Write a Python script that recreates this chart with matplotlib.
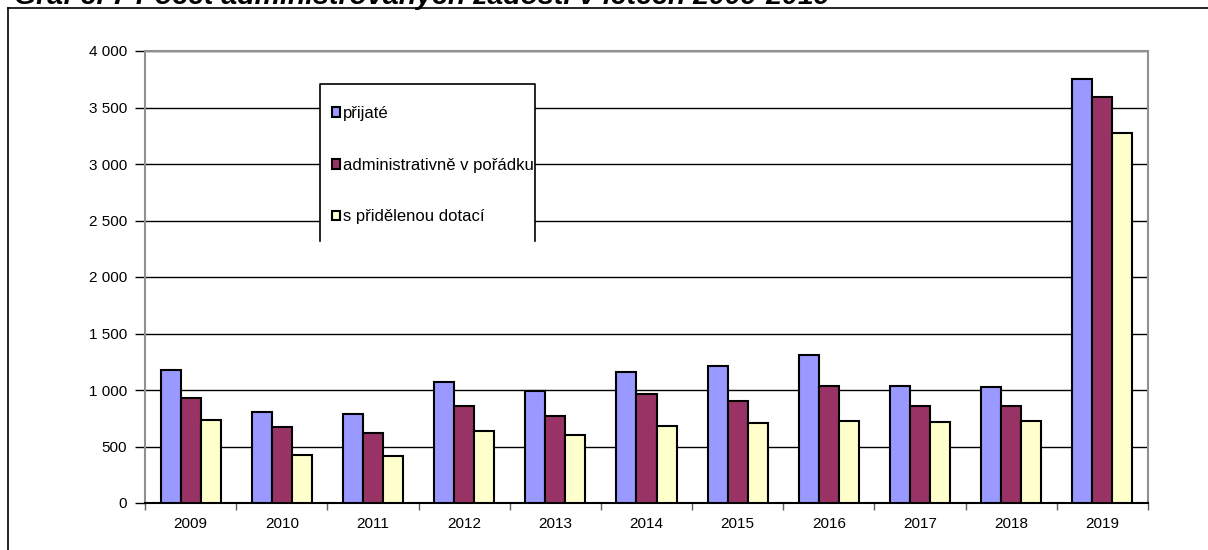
import matplotlib
matplotlib.use("Agg")
import matplotlib.pyplot as plt
import numpy as np
from matplotlib.patches import Rectangle
from matplotlib.lines import Line2D

years = ["2009", "2010", "2011", "2012", "2013", "2014", "2015", "2016", "2017", "2018", "2019"]
prijate = [1180, 808, 785, 1071, 988, 1159, 1215, 1310, 1038, 1029, 3752]
admin_v_poradku = [932, 675, 622, 861, 770, 967, 905, 1038, 861, 861, 3596]
s_dotaci = [735, 425, 416, 640, 602, 681, 711, 726, 720, 726, 3277]
series_labels = ["přijaté", "administrativně v pořádku", "s přidělenou dotací"]
yticks = [0, 500, 1000, 1500, 2000, 2500, 3000, 3500, 4000]
ytick_labels = ["0", "500", "1 000", "1 500", "2 000", "2 500", "3 000", "3 500", "4 000"]
title = "Graf č. 7 Počet administrovaných žádostí v letech 2009-2019"

colors = ["#9999FF", "#993366", "#FFFFCC"]

W, H = 1208, 550
fig = plt.figure(figsize=(W / 100, H / 100), dpi=100)
plt.rcParams['font.family'] = ['Liberation Sans', 'DejaVu Sans']

def fx(px):
    return px / W

def fy(py):
    return 1 - py / H

# outer chart frame (partly cut)
fig.add_artist(Line2D([fx(8), 1.0], [fy(7.5), fy(7.5)], color="black", lw=1.2))
fig.add_artist(Line2D([fx(8), fx(8)], [fy(7.5), 0.0], color="black", lw=1.2))

# title, cut off at the top as in the reference
fig.text(fx(14), fy(3.5), title, fontsize=20.5, fontweight="bold", fontstyle="italic",
         va="baseline", ha="left", color="black")

ax = fig.add_axes([fx(145), fy(503), fx(1148) - fx(145), fy(51) - fy(503)])
x = np.arange(len(years))
bw = 0.22
for i, (vals, c, lab) in enumerate(zip([prijate, admin_v_poradku, s_dotaci], colors, series_labels)):
    ax.bar(x + (i - 1) * bw, vals, width=bw, color=c, edgecolor="black", linewidth=1.5,
           label=lab, zorder=3)

ax.set_xlim(-0.5, len(years) - 0.5)
ax.set_ylim(0, 4000)
ax.set_yticks(yticks)
ax.set_yticklabels(ytick_labels, fontsize=11)
ax.set_xticks(x)
ax.set_xticklabels(years, fontsize=11)
ax.tick_params(axis="x", length=0, pad=10)
ax.set_xticks(np.arange(-0.5, len(years), 1), minor=True)
ax.tick_params(axis="x", which="minor", length=5, width=1, color="#606060")
ax.tick_params(axis="y", length=7, width=1, pad=6, color="black")
ax.yaxis.grid(True, color="black", linewidth=1, zorder=0)
ax.set_axisbelow(True)
for s in ["top", "right", "left"]:
    ax.spines[s].set_color("#909090")
    ax.spines[s].set_linewidth(1.5)
ax.spines["bottom"].set_color("black")
ax.spines["bottom"].set_linewidth(1.5)

# legend box (bottom edge not drawn)
lx0, lx1, ly0, ly1 = fx(320), fx(535), fy(241), fy(84)
fig.add_artist(Rectangle((lx0, ly0), lx1 - lx0, ly1 - ly0, transform=fig.transFigure,
                         facecolor="white", edgecolor="none", zorder=5))
fig.add_artist(Line2D([lx0, lx0, lx1, lx1], [ly0, ly1, ly1, ly0], color="black", lw=1.2, zorder=6))
leg = fig.legend(loc="upper left", bbox_to_anchor=(fx(332), fy(106)), frameon=False,
                 fontsize=12, handlelength=0.5, handleheight=0.5, handletextpad=0.15,
                 labelspacing=2.2, borderpad=0, borderaxespad=0)
leg.set_zorder(7)

fig.savefig("out.png", dpi=100)
